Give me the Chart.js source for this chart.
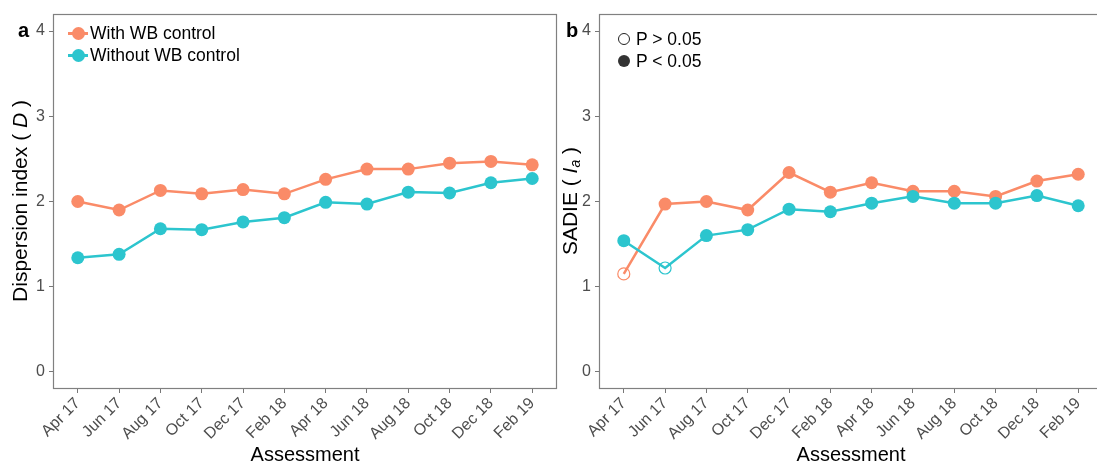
<!DOCTYPE html>
<html>
<head>
<meta charset="utf-8">
<script src="https://cdn.jsdelivr.net/npm/chart.js@4.4.1/dist/chart.umd.min.js"></script>
<style>
  html, body { margin: 0; padding: 0; background: #fff; }
  body { width: 1097px; height: 467px; overflow: hidden; position: relative; font-family: 'Liberation Sans', Arial, sans-serif; }
  canvas { position: absolute; top: 0; }
  #chartA { left: 0; }
  #chartB { left: 560px; }
  .ytitle { position: absolute; top: 201px; font-size: 21px; line-height: 1.2; white-space: nowrap; color: #000;
            transform: translate(-50%, -50%) rotate(-90deg); }
  .ytitle sub { font-size: 14px; vertical-align: -3px; }
  .tag { position: absolute; top: 20px; font-size: 20px; font-weight: bold; line-height: 1; }
  .legend { position: absolute; font-size: 17.5px; color: #000; }
  .legend .row { display: flex; align-items: center; height: 22px; }
  .mk { position: relative; width: 20px; height: 22px; margin-right: 2px; }
  .mk .ln { position: absolute; left: 0; right: 0; top: 10px; height: 2.5px; }
  .mk .dot { position: absolute; left: 3.5px; top: 4.5px; width: 13px; height: 13px; border-radius: 50%; }
  .pdot { width: 12px; height: 12px; border-radius: 50%; box-sizing: border-box; margin-right: 6px; }
</style>
</head>
<body>
<canvas id="chartA" width="580" height="467"></canvas>
<canvas id="chartB" width="560" height="467"></canvas>

<div class="tag" style="left:18px;">a</div>
<div class="tag" style="left:566px;">b</div>
<div class="ytitle" style="left:20px;">Dispersion index ( <i>D</i> )</div>
<div class="ytitle" style="left:570px;">SADIE ( <i>I</i><sub><i>a</i></sub> )</div>

<div class="legend" style="left:68px; top:22px;">
  <div class="row"><span class="mk"><span class="ln" style="background:#FA8B68"></span><span class="dot" style="background:#FA8B68"></span></span>With WB control</div>
  <div class="row"><span class="mk"><span class="ln" style="background:#2CC5CE"></span><span class="dot" style="background:#2CC5CE"></span></span>Without WB control</div>
</div>
<div class="legend" style="left:618px; top:28px;">
  <div class="row"><span class="pdot" style="border:1.2px solid #222;"></span>P &gt; 0.05</div>
  <div class="row"><span class="pdot" style="background:#333;"></span>P &lt; 0.05</div>
</div>

<script>
const months = ['Apr 17', 'Jun 17', 'Aug 17', 'Oct 17', 'Dec 17', 'Feb 18',
                'Apr 18', 'Jun 18', 'Aug 18', 'Oct 18', 'Dec 18', 'Feb 19'];
const yTicks = [0, 1, 2, 3, 4];

// panel a: dispersion index D
const dispWith    = [2.00, 1.90, 2.13, 2.09, 2.14, 2.09, 2.26, 2.38, 2.38, 2.45, 2.47, 2.43];
const dispWithout = [1.34, 1.38, 1.68, 1.67, 1.76, 1.81, 1.99, 1.97, 2.11, 2.10, 2.22, 2.27];

// panel b: SADIE Ia, plus whether P < 0.05
const sadieWith       = [1.15, 1.97, 2.00, 1.90, 2.34, 2.11, 2.22, 2.12, 2.12, 2.06, 2.24, 2.32];
const sadieWithout    = [1.54, 1.22, 1.60, 1.67, 1.91, 1.88, 1.98, 2.06, 1.98, 1.98, 2.07, 1.95];
const sadieWithSig    = [false, true, true, true, true, true, true, true, true, true, true, true];
const sadieWithoutSig = [true, false, true, true, true, true, true, true, true, true, true, true];

const ORANGE = '#FA8B68';
const CYAN = '#2CC5CE';
const FONT = "'Liberation Sans', Arial, sans-serif";

const panelBox = {
  id: 'panelBox',
  beforeDatasetsDraw(chart) {
    const { ctx, chartArea: a } = chart;
    ctx.save();
    ctx.strokeStyle = '#808080';
    ctx.lineWidth = 1.2;
    ctx.strokeRect(Math.round(a.left) + 0.5, Math.round(a.top) + 0.5,
                   Math.round(a.right - a.left) - 1, Math.round(a.bottom - a.top) - 1);
    ctx.restore();
  }
};

function series(values, color, sig, order) {
  const filled = sig || values.map(() => true);
  return {
    data: values.map((v, i) => ({ x: i, y: v })),
    borderColor: color,
    borderWidth: 2.5,
    pointRadius: filled.map(s => s ? 6.5 : 6),
    pointHoverRadius: filled.map(s => s ? 6.5 : 6),
    pointBackgroundColor: filled.map(s => s ? color : 'rgba(0,0,0,0)'),
    pointBorderColor: color,
    pointBorderWidth: filled.map(s => s ? 0 : 1.2),
    order: order
  };
}

function makePanel(id, datasets, yWidth, padRight) {
  new Chart(document.getElementById(id), {
    type: 'line',
    data: { datasets: datasets },
    plugins: [panelBox],
    options: {
      responsive: false,
      animation: false,
      layout: { padding: { top: 14, right: padRight, left: 0, bottom: 0 } },
      plugins: { legend: { display: false }, tooltip: { enabled: false } },
      scales: {
        x: {
          type: 'linear',
          min: -0.6,
          max: months.length - 0.4,
          afterBuildTicks: s => { s.ticks = months.map((m, i) => ({ value: i })); },
          afterFit: s => { s.height = 78; },
          ticks: {
            callback: v => months[v],
            autoSkip: false, minRotation: 45, maxRotation: 45,
            color: '#4D4D4D', font: { size: 16, family: FONT }, padding: 1
          },
          grid: { drawOnChartArea: false, drawTicks: true, tickLength: 4, color: '#777' },
          border: { display: false },
          title: { display: true, text: 'Assessment', color: '#000',
                   font: { size: 20, family: FONT }, padding: { top: 0, bottom: 0 } }
        },
        y: {
          min: -0.2,
          max: 4.2,
          afterBuildTicks: s => { s.ticks = yTicks.map(v => ({ value: v })); },
          afterFit: s => { s.width = yWidth; },
          ticks: { color: '#4D4D4D', font: { size: 16, family: FONT }, padding: 4 },
          grid: { drawOnChartArea: false, drawTicks: true, tickLength: 4, color: '#777' },
          border: { display: false }
        }
      }
    }
  });
}

makePanel('chartA', [
  series(dispWith, ORANGE, null, 1),
  series(dispWithout, CYAN, null, 0)
], 53, 23);

makePanel('chartB', [
  series(sadieWith, ORANGE, sadieWithSig, 1),
  series(sadieWithout, CYAN, sadieWithoutSig, 0)
], 39, 17);
</script>
</body>
</html>
